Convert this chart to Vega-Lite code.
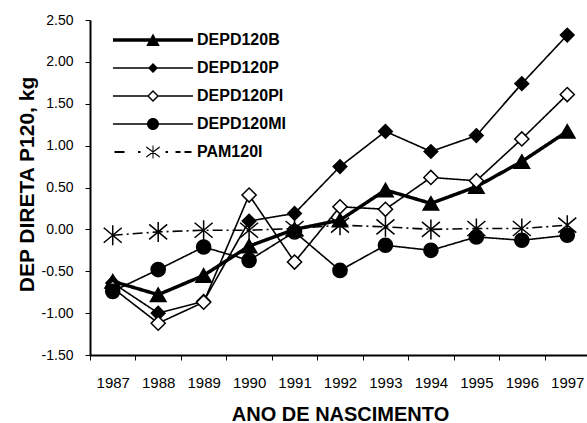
{
  "$schema": "https://vega.github.io/schema/vega-lite/v6.json",
  "width": 500,
  "height": 335,
  "autosize": {"type": "none"},
  "padding": {"left": 90, "top": 20, "right": -3, "bottom": 68},
  "background": "white",
  "config": {
    "view": {"stroke": null},
    "font": "Liberation Sans",
    "axis": {
      "labelFont": "Liberation Sans",
      "titleFont": "Liberation Sans",
      "labelColor": "black",
      "titleColor": "black",
      "domainColor": "black",
      "tickColor": "black",
      "grid": false
    }
  },
  "data": {
    "values": [
      {"ano": 1987, "serie": "DEPD120B", "valor": -0.62},
      {"ano": 1988, "serie": "DEPD120B", "valor": -0.78},
      {"ano": 1989, "serie": "DEPD120B", "valor": -0.55},
      {"ano": 1990, "serie": "DEPD120B", "valor": -0.2},
      {"ano": 1991, "serie": "DEPD120B", "valor": 0.0},
      {"ano": 1992, "serie": "DEPD120B", "valor": 0.11},
      {"ano": 1993, "serie": "DEPD120B", "valor": 0.47},
      {"ano": 1994, "serie": "DEPD120B", "valor": 0.31},
      {"ano": 1995, "serie": "DEPD120B", "valor": 0.51},
      {"ano": 1996, "serie": "DEPD120B", "valor": 0.81},
      {"ano": 1997, "serie": "DEPD120B", "valor": 1.17},
      {"ano": 1987, "serie": "DEPD120P", "valor": -0.64},
      {"ano": 1988, "serie": "DEPD120P", "valor": -1.0},
      {"ano": 1989, "serie": "DEPD120P", "valor": -0.86},
      {"ano": 1990, "serie": "DEPD120P", "valor": 0.1},
      {"ano": 1991, "serie": "DEPD120P", "valor": 0.19},
      {"ano": 1992, "serie": "DEPD120P", "valor": 0.75},
      {"ano": 1993, "serie": "DEPD120P", "valor": 1.17},
      {"ano": 1994, "serie": "DEPD120P", "valor": 0.93},
      {"ano": 1995, "serie": "DEPD120P", "valor": 1.12},
      {"ano": 1996, "serie": "DEPD120P", "valor": 1.74},
      {"ano": 1997, "serie": "DEPD120P", "valor": 2.32},
      {"ano": 1987, "serie": "DEPD120PI", "valor": -0.7},
      {"ano": 1988, "serie": "DEPD120PI", "valor": -1.12},
      {"ano": 1989, "serie": "DEPD120PI", "valor": -0.87},
      {"ano": 1990, "serie": "DEPD120PI", "valor": 0.41},
      {"ano": 1991, "serie": "DEPD120PI", "valor": -0.39},
      {"ano": 1992, "serie": "DEPD120PI", "valor": 0.27},
      {"ano": 1993, "serie": "DEPD120PI", "valor": 0.24},
      {"ano": 1994, "serie": "DEPD120PI", "valor": 0.62},
      {"ano": 1995, "serie": "DEPD120PI", "valor": 0.58},
      {"ano": 1996, "serie": "DEPD120PI", "valor": 1.08},
      {"ano": 1997, "serie": "DEPD120PI", "valor": 1.61},
      {"ano": 1987, "serie": "DEPD120MI", "valor": -0.74},
      {"ano": 1988, "serie": "DEPD120MI", "valor": -0.48},
      {"ano": 1989, "serie": "DEPD120MI", "valor": -0.21},
      {"ano": 1990, "serie": "DEPD120MI", "valor": -0.37},
      {"ano": 1991, "serie": "DEPD120MI", "valor": -0.03},
      {"ano": 1992, "serie": "DEPD120MI", "valor": -0.49},
      {"ano": 1993, "serie": "DEPD120MI", "valor": -0.19},
      {"ano": 1994, "serie": "DEPD120MI", "valor": -0.25},
      {"ano": 1995, "serie": "DEPD120MI", "valor": -0.09},
      {"ano": 1996, "serie": "DEPD120MI", "valor": -0.13},
      {"ano": 1997, "serie": "DEPD120MI", "valor": -0.07},
      {"ano": 1987, "serie": "PAM120I", "valor": -0.07},
      {"ano": 1988, "serie": "PAM120I", "valor": -0.03},
      {"ano": 1989, "serie": "PAM120I", "valor": -0.01},
      {"ano": 1990, "serie": "PAM120I", "valor": -0.01},
      {"ano": 1991, "serie": "PAM120I", "valor": 0.01},
      {"ano": 1992, "serie": "PAM120I", "valor": 0.05},
      {"ano": 1993, "serie": "PAM120I", "valor": 0.03},
      {"ano": 1994, "serie": "PAM120I", "valor": 0.0},
      {"ano": 1995, "serie": "PAM120I", "valor": 0.01},
      {"ano": 1996, "serie": "PAM120I", "valor": 0.01},
      {"ano": 1997, "serie": "PAM120I", "valor": 0.05}
    ]
  },
  "encoding": {
    "x": {
      "field": "ano",
      "type": "ordinal",
      "scale": {"type": "band", "paddingInner": 0, "paddingOuter": 0},
      "axis": {
        "title": "ANO DE NASCIMENTO",
        "labelAngle": 0,
        "tickBand": "extent",
        "domainWidth": 2,
        "tickSize": 5,
        "labelFontSize": 15,
        "labelPadding": 15,
        "titleFontSize": 20,
        "titleFontWeight": "bold",
        "titleY": 65,
        "titleBaseline": "alphabetic"
      }
    },
    "y": {
      "field": "valor",
      "type": "quantitative",
      "scale": {"domain": [-1.5, 2.5], "nice": false, "zero": false},
      "axis": {
        "title": "DEP DIRETA P120, kg",
        "values": [-1.5, -1, -0.5, 0, 0.5, 1, 1.5, 2, 2.5],
        "labelExpr": "replace(format(datum.value, '.2f'), '−', '-')",
        "domainWidth": 2,
        "tickSize": 5,
        "labelPadding": 12,
        "labelFontSize": 14,
        "titleFontSize": 21,
        "titleFontWeight": "bold",
        "titleX": -57,
        "titleY": 164,
        "titleBaseline": "alphabetic"
      }
    }
  },
  "resolve": {"scale": {"shape": "independent"}, "legend": {"shape": "independent"}},
  "layer": [
    {
      "data": {"values": [{}]},
      "mark": {"type": "rule", "color": "black", "strokeWidth": 2},
      "encoding": {"x": null, "y": {"datum": 2.5}}
    },
    {
      "mark": {"type": "line", "color": "black"},
      "encoding": {
        "detail": {"field": "serie", "type": "nominal"},
        "strokeWidth": {
          "condition": {"test": "datum.serie === 'DEPD120B'", "value": 3.5},
          "value": 1.6
        },
        "strokeDash": {
          "condition": {"test": "datum.serie === 'PAM120I'", "value": [10, 4, 2, 4]},
          "value": [1, 0]
        }
      }
    },
    {
      "mark": {"type": "point", "stroke": "black", "strokeWidth": 1.5, "opacity": 1},
      "encoding": {
        "fill": {
          "condition": {"test": "datum.serie === 'DEPD120PI'", "value": "white"},
          "value": "black"
        },
        "size": {
          "condition": [
            {"test": "datum.serie === 'DEPD120B'", "value": 240},
            {"test": "datum.serie === 'DEPD120P'", "value": 185},
            {"test": "datum.serie === 'DEPD120PI'", "value": 200},
            {"test": "datum.serie === 'DEPD120MI'", "value": 200}
          ],
          "value": 400
        },
        "shape": {
          "field": "serie",
          "type": "nominal",
          "scale": {
            "domain": ["DEPD120B", "DEPD120P", "DEPD120PI", "DEPD120MI", "PAM120I"],
            "range": ["triangle-up", "diamond", "diamond", "circle", "M0,-1V1M-0.9,-0.75L0.9,0.75M-0.9,0.75L0.9,-0.75"]
          },
          "legend": null
        }
      }
    },
    {
      "mark": {"type": "point", "filled": true, "color": "black", "strokeWidth": 0, "opacity": 0},
      "encoding": {
        "shape": {
          "field": "serie",
          "type": "nominal",
          "scale": {
            "domain": ["DEPD120B", "DEPD120P", "DEPD120PI", "DEPD120MI", "PAM120I"],
            "range": [
              "M-1.6,-0.35H14.4V0.35H-1.6ZM6.4,-1.3L7.75,1.2L5.05,1.2Z",
              "M-1.6,-0.16H14.4V0.16H-1.6ZM6.4,-1L7.4,0L6.4,1L5.4,0Z",
              "M-1.6,-0.16H5.3V0.16H-1.6ZM7.5,-0.16H14.4V0.16H7.5ZM6.4,-1.2L7.6,0L6.4,1.2L5.2,0ZM6.4,-0.8L5.6,0L6.4,0.8L7.2,0Z",
              "M-1.6,-0.16H14.4V0.16H-1.6ZM7.6,0A1.2,1.2,0,1,1,5.2,0A1.2,1.2,0,1,1,7.6,0Z",
              "M-1.3,-0.2H0.7V0.2H-1.3ZM3.4,-0.2H3.9V0.2H3.4ZM8.9,-0.2H9.4V0.2H8.9ZM10.9,-0.2H11.9V0.2H10.9ZM12.7,-0.2H14.1V0.2H12.7ZM6.3,-1.3H6.5V1.3H6.3ZM5.05,-1.15L7.75,0.85L7.75,1.15L5.05,-0.85ZM5.05,0.85L7.75,-1.15L7.75,-0.85L5.05,1.15Z"
            ]
          },
          "legend": {
            "title": null,
            "orient": "none",
            "legendX": 23,
            "legendY": 12,
            "padding": 0,
            "rowPadding": 12,
            "labelFont": "Liberation Sans",
            "labelFontSize": 16,
            "labelFontWeight": "bold",
            "labelColor": "black",
            "labelOffset": 68,
            "symbolSize": 100,
            "symbolOpacity": 1,
            "symbolFillColor": "black",
            "symbolStrokeWidth": 0
          }
        }
      }
    }
  ]
}
